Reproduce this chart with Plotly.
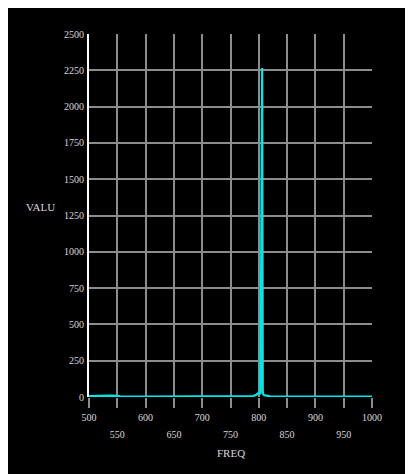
import plotly.graph_objects as go

# Data
freq = [500, 510, 520, 530, 540, 548, 555, 600, 650, 700, 750, 770, 780, 790, 795, 800, 803, 805, 806, 807, 808, 810, 815, 820, 850, 900, 950, 1000]
valu = [6, 8, 9, 10, 10, 8, 4, 3, 3, 3, 3, 4, 4, 6, 14, 28, 20, 1157, 2265, 40, 18, 12, 6, 4, 3, 3, 3, 3]

x_major_ticks = [500, 600, 700, 800, 900, 1000]
x_minor_labels = [550, 650, 750, 850, 950]
y_ticks = [0, 250, 500, 750, 1000, 1250, 1500, 1750, 2000, 2250, 2500]

# page body has an 8px margin, so the figure sits at (8, 8)
OFF = 8
W, H = 413 - OFF, 474 - OFF
L, T = 89 - OFF, 34 - OFF
pw, ph = 283, 363
R, B = W - L - pw, H - T - ph

FONT = "Liberation Serif"
GRID = "#8c8c8c"
TXT = "#d8d8d8"


def px_to_paper(ax, ay):
    """absolute page pixel -> paper coords"""
    return (ax - OFF - L) / pw, (T + ph - (ay - OFF)) / ph


fig = go.Figure()
fig.add_trace(go.Scatter(x=freq, y=valu, mode="lines",
                         line=dict(color="#00e6e6", width=2.2), showlegend=False,
                         hoverinfo="skip"))
# invisible trace to bind second x axis (second row of tick labels)
fig.add_trace(go.Scatter(x=[500, 1000], y=[0, 0], xaxis="x2", mode="lines",
                         line=dict(width=0), showlegend=False, hoverinfo="skip"))

vx, vy = px_to_paper(40, 207)
fx, fy = px_to_paper(230.5, 453)

fig.update_layout(
    width=W, height=H,
    margin=dict(l=L, r=R, t=T, b=B),
    paper_bgcolor="black", plot_bgcolor="black",
    font=dict(family=FONT, size=10, color=TXT),
    xaxis=dict(range=[500, 1000], tickvals=x_major_ticks, ticks="outside",
               ticklen=10, tickcolor=GRID, tickwidth=1.5,
               showgrid=True, gridcolor=GRID, gridwidth=1.5,
               minor=dict(tick0=500, dtick=50, ticks="outside", ticklen=10,
                          tickcolor=GRID, tickwidth=1.5, showgrid=True,
                          gridcolor=GRID, gridwidth=1.5),
               zeroline=False, showline=False,
               tickfont=dict(family=FONT, size=10, color=TXT),
               ticklabelstandoff=1),
    xaxis2=dict(range=[500, 1000], overlaying="x", side="bottom", anchor="y",
                tickvals=x_minor_labels, ticks="", showgrid=False,
                zeroline=False, showline=False,
                tickfont=dict(family=FONT, size=10, color=TXT),
                ticklabelstandoff=30),
    yaxis=dict(range=[0, 2500], tickvals=y_ticks, ticks="",
               showgrid=True, gridcolor=GRID, gridwidth=1.5,
               zeroline=False, showline=True, linecolor="white", linewidth=2,
               tickfont=dict(family=FONT, size=10, color=TXT),
               ticklabelstandoff=1),
    annotations=[
        dict(text="VALU", x=vx, y=vy, xref="paper", yref="paper", showarrow=False,
             xanchor="center", yanchor="middle",
             font=dict(family=FONT, size=11, color=TXT)),
        dict(text="FREQ", x=fx, y=fy, xref="paper", yref="paper", showarrow=False,
             xanchor="center", yanchor="middle",
             font=dict(family=FONT, size=11, color=TXT)),
    ],
)

fig.write_html("out.html")
